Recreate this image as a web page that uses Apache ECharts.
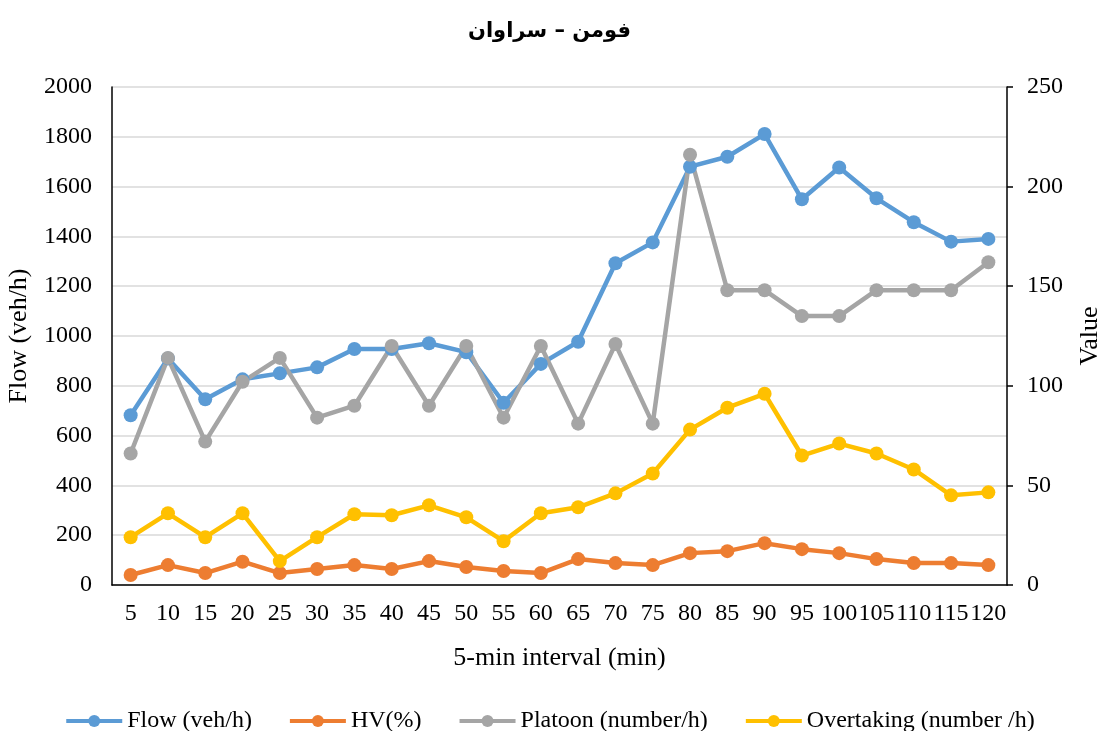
<!DOCTYPE html>
<html>
<head>
<meta charset="utf-8">
<title>فومن – سراوان</title>
<script src="https://cdn.jsdelivr.net/npm/echarts@6/dist/echarts.min.js"></script>
<style>
    html, body {margin: 0; padding: 0; background: #fff;}
    #chart {width: 1099px; height: 731px;}
</style>
</head>
<body>
<div id="chart"></div>
<script>
// 5-min intervals
const intervals = ['5', '10', '15', '20', '25', '30', '35', '40', '45', '50', '55', '60',
    '65', '70', '75', '80', '85', '90', '95', '100', '105', '110', '115', '120']

// left axis
const flow = [682, 910, 746, 826, 850, 874, 948, 948, 971, 935, 732, 888,
    977, 1292, 1376, 1680, 1720, 1811, 1549, 1677, 1553, 1457, 1379, 1390]

// right axis (Value)
const hv = [5, 10, 6, 11.7, 6, 8, 10, 8, 12, 9, 7, 6,
    13, 11, 10, 16, 17, 21, 18, 16, 13, 11, 11, 10]
const platoon = [66, 114, 72, 102, 114, 84, 90, 120, 90, 120, 84, 120,
    81, 121, 81, 216, 148, 148, 135, 135, 148, 148, 148, 162]
const overtaking = [24, 36, 24, 36, 12, 24, 35.5, 35, 40, 34, 22, 36,
    39, 46, 56, 78, 89, 96, 65, 71, 66, 58, 45, 46.5]

const font = 'Liberation Serif'

function lineSeries (name, data, color, axis) {
    return {
        name: name,
        type: 'line',
        yAxisIndex: axis,
        data: data,
        symbol: 'circle',
        symbolSize: 14,
        lineStyle: {width: 4.5, color: color},
        itemStyle: {color: color},
        emphasis: {disabled: true}
    }
}

const chart = echarts.init(document.getElementById('chart'))
chart.setOption({
    animation: false,
    title: {
        text: 'فومن – سراوان',
        left: 'center',
        top: 16,
        textStyle: {fontFamily: 'DejaVu Sans', fontSize: 21, fontWeight: 'bold', color: '#000'}
    },
    grid: {left: 112, right: 92, top: 87, bottom: 146, outerBoundsMode: 'none'},
    legend: {
        top: 704,
        left: 'center',
        itemWidth: 56,
        itemHeight: 15,
        itemGap: 36,
        lineStyle: {width: 4},
        textStyle: {fontFamily: font, fontSize: 24, color: '#000'},
        data: ['Flow (veh/h)', 'HV(%)', 'Platoon (number/h)', 'Overtaking (number /h)']
    },
    xAxis: {
        type: 'category',
        data: intervals,
        name: '5-min interval (min)',
        nameLocation: 'middle',
        nameGap: 60,
        nameTextStyle: {fontFamily: font, fontSize: 26, color: '#000'},
        axisLine: {lineStyle: {color: '#000', width: 1.5}},
        axisTick: {show: false},
        axisLabel: {interval: 0, fontFamily: font, fontSize: 24, color: '#000', margin: 17}
    },
    yAxis: [
        {
            type: 'value',
            min: 0,
            max: 2000,
            interval: 200,
            name: 'Flow (veh/h)',
            nameLocation: 'middle',
            nameGap: 80,
            nameTextStyle: {fontFamily: font, fontSize: 26, color: '#000'},
            axisLine: {show: true, lineStyle: {color: '#000', width: 1.5}},
            axisTick: {show: false},
            axisLabel: {fontFamily: font, fontSize: 24, color: '#000', margin: 20,
                formatter: v => String(v)},
            splitLine: {lineStyle: {color: '#d9d9d9', width: 1.5}}
        },
        {
            type: 'value',
            min: 0,
            max: 250,
            interval: 50,
            name: 'Value',
            nameLocation: 'middle',
            nameGap: 70,
            nameTextStyle: {fontFamily: font, fontSize: 26, color: '#000'},
            axisLine: {show: true, lineStyle: {color: '#000', width: 1.5}},
            axisTick: {show: true, length: 6, lineStyle: {color: '#000', width: 1.5}},
            axisLabel: {fontFamily: font, fontSize: 24, color: '#000', margin: 20},
            splitLine: {show: false}
        }
    ],
    series: [
        lineSeries('Flow (veh/h)', flow, '#5B9BD5', 0),
        lineSeries('HV(%)', hv, '#ED7D31', 1),
        lineSeries('Platoon (number/h)', platoon, '#A5A5A5', 1),
        lineSeries('Overtaking (number /h)', overtaking, '#FFC000', 1)
    ]
})
</script>
</body>
</html>
